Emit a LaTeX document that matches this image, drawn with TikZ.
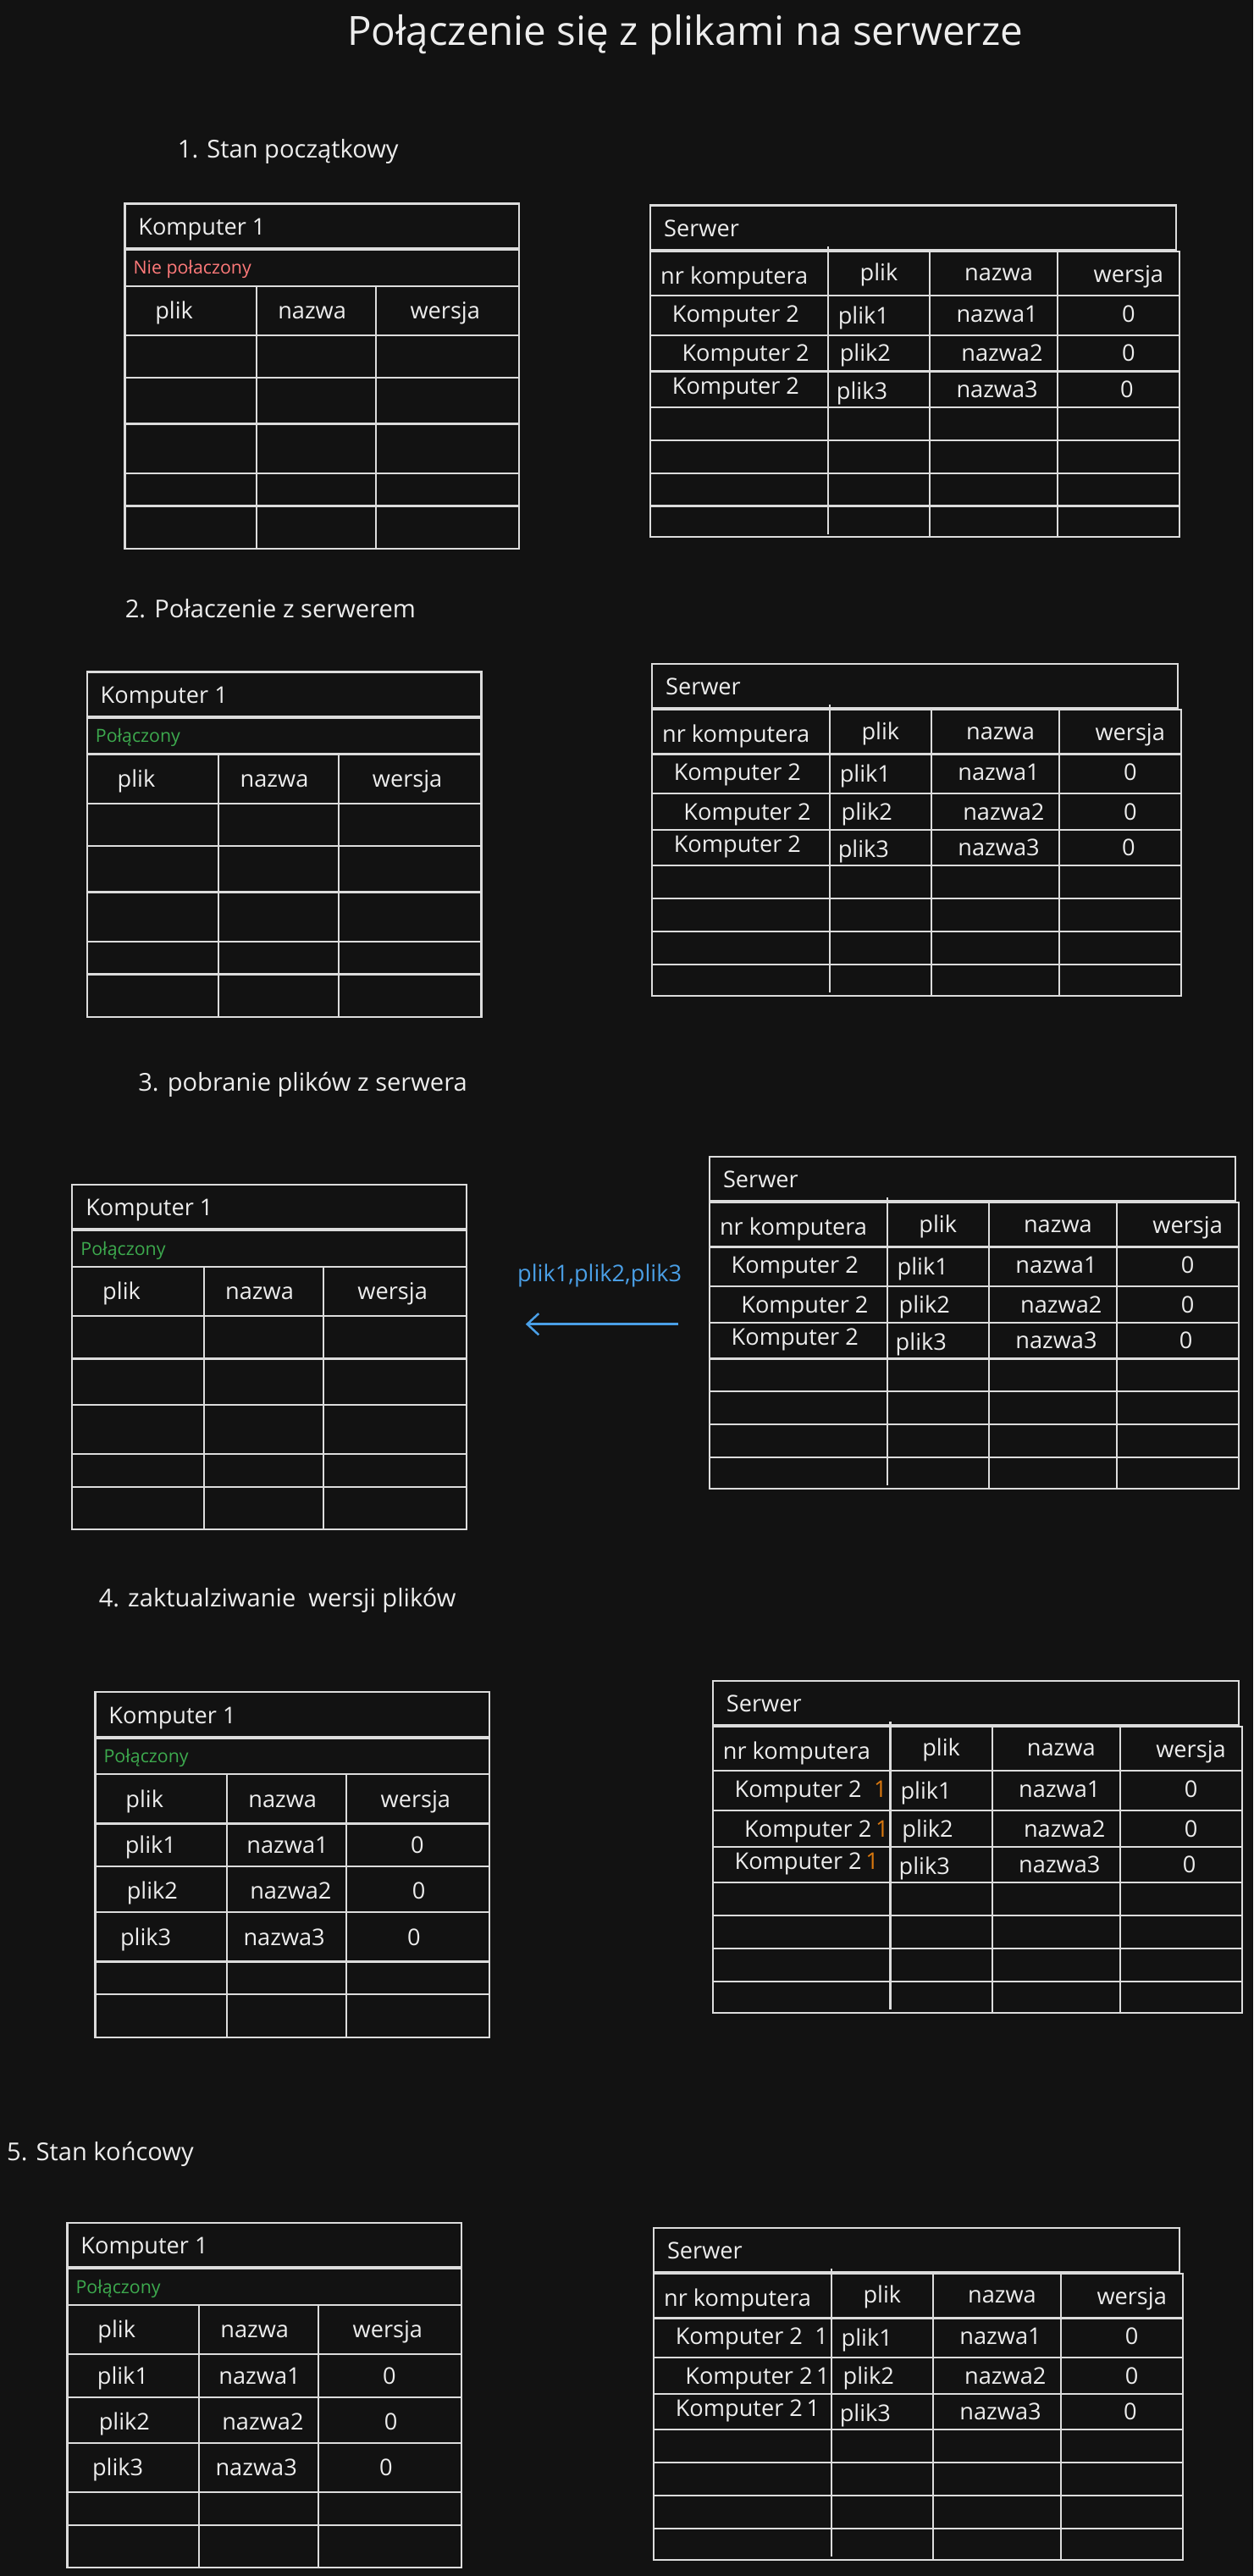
\documentclass[tikz,border=0pt]{standalone}
\usepackage{fontspec}
\setmainfont{Open Sans}
\usetikzlibrary{arrows.meta}
\definecolor{bgc}{HTML}{121212}
\definecolor{lnc}{HTML}{DCDCDC}
\definecolor{txc}{HTML}{EDEDED}
\definecolor{redc}{HTML}{FF7A7A}
\definecolor{greenc}{HTML}{3DAA4E}
\definecolor{bluec}{HTML}{4A9FE6}
\definecolor{orangec}{HTML}{D9780F}
\tikzset{
  grid/.style={draw=lnc, line width=1.1pt},
  txt/.style={text=txc, font=\fontsize{14}{16}\selectfont, inner sep=0pt},
  small/.style={font=\fontsize{11}{13}\selectfont, inner sep=0pt},
  sect/.style={text=txc, font=\fontsize{15}{18}\selectfont, inner sep=0pt, anchor=base west},
}
% Komputer table
\newcommand\kompTable[5]{%
\begin{scope}[shift={(#2,#3)}]
  \draw[grid] (76,124) rectangle (316,151);
  \draw[grid] (76,152) rectangle (316,174);
  \draw[grid] (76,174) rectangle (316,334);
  \foreach \yy in {204,230,258,288,308} \draw[grid] (76,\yy) -- (316,\yy);
  \foreach \xx in {156,229} \draw[grid] (\xx,174) -- (\xx,334);
  \node[txt, anchor=base west] (#1title) at (84,143) {Komputer 1};
  \node[small, text=#5, anchor=base west] (#1status) at (81,167) {#4};
  \node[txt, anchor=base] (#1h1) at (106,194) {plik};
  \node[txt, anchor=base] (#1h2) at (190,194) {nazwa};
  \node[txt, anchor=base] (#1h3) at (271,194) {wersja};
\end{scope}}
\newcommand\kompData[3]{%
\begin{scope}[shift={(#2,#3)}]
  \node[txt, anchor=base west] (#1p1) at (94,222) {plik1};
  \node[txt, anchor=base west] (#1p2) at (95,250) {plik2};
  \node[txt, anchor=base west] (#1p3) at (91,278) {plik3};
  \node[txt, anchor=base] (#1n1) at (193,222) {nazwa1};
  \node[txt, anchor=base] (#1n2) at (195,250) {nazwa2};
  \node[txt, anchor=base] (#1n3) at (191,278) {nazwa3};
  \node[txt, anchor=base] (#1v1) at (272,222) {0};
  \node[txt, anchor=base] (#1v2) at (273,250) {0};
  \node[txt, anchor=base] (#1v3) at (270,278) {0};
\end{scope}}
% Serwer table
\newcommand\servTable[3]{%
\begin{scope}[shift={(#2,#3)}]
  \draw[grid] (396,125) rectangle (716,152);
  \draw[grid] (396,153) rectangle (718,327);
  \foreach \yy in {180,204,226,248,268,288,308} \draw[grid] (396,\yy) -- (718,\yy);
  \draw[grid] (504,150) -- (504,325);
  \foreach \xx in {566,644} \draw[grid] (\xx,153) -- (\xx,327);
  \node[txt, anchor=base west] (#1title) at (404,144) {Serwer};
  \node[txt, anchor=base] (#1h1) at (447,173) {nr komputera};
  \node[txt, anchor=base] (#1h2) at (535,171) {plik};
  \node[txt, anchor=base] (#1h3) at (608,171) {nazwa};
  \node[txt, anchor=base] (#1h4) at (687,172) {wersja};
  \node[txt, anchor=base west] (#1a1) at (409,196) {Komputer 2};
  \node[txt, anchor=base west] (#1a2) at (415,220) {Komputer 2};
  \node[txt, anchor=base west] (#1a3) at (409,240) {Komputer 2};
  \node[txt, anchor=base west] (#1b1) at (510,197) {plik1};
  \node[txt, anchor=base west] (#1b2) at (511,220) {plik2};
  \node[txt, anchor=base west] (#1b3) at (509,243) {plik3};
  \node[txt, anchor=base] (#1c1) at (607,196) {nazwa1};
  \node[txt, anchor=base] (#1c2) at (610,220) {nazwa2};
  \node[txt, anchor=base] (#1c3) at (607,242) {nazwa3};
  \node[txt, anchor=base] (#1d1) at (687,196) {0};
  \node[txt, anchor=base] (#1d2) at (687,220) {0};
  \node[txt, anchor=base] (#1d3) at (686,242) {0};
\end{scope}}
\newcommand\servMark[4]{%
\begin{scope}[shift={(#2,#3)}]
  \node[txt, text=#4, anchor=base] (#1m1) at (498,196) {1};
  \node[txt, text=#4, anchor=base] (#1m2) at (499,220) {1};
  \node[txt, text=#4, anchor=base] (#1m3) at (493,240) {1};
\end{scope}}
\begin{document}
\begin{tikzpicture}[x=1pt, y=-1pt]
  \fill[bgc] (0,0) rectangle (763,1568);
  \useasboundingbox (0,0) rectangle (763,1568);
  \node[text=txc, font=\fontsize{24.5}{28}\selectfont, inner sep=0pt] (title) at (417,21) {Połączenie się z plikami na serwerze};
  % Section 1
  \node[sect] (s1) at (108,96) {1. Stan początkowy};
  \kompTable{ka}{0}{0}{Nie połaczony}{redc}
  \servTable{sa}{0}{0}
  % Section 2
  \node[sect] (s2) at (76,376) {2. Połaczenie z serwerem};
  \kompTable{kb}{-23}{285}{Połączony}{greenc}
  \servTable{sb}{1}{279}
  % Section 3
  \node[sect] (s3) at (84,664) {3. pobranie plików z serwera};
  \kompTable{kc}{-32}{597}{Połączony}{greenc}
  \servTable{sc}{36}{579}
  \coordinate (arrS) at (413,806);
  \coordinate (arrE) at (320,806);
  \draw[draw=bluec, line width=1.3pt, -{Straight Barb[length=7pt,width=13pt]}] (arrS) -- (arrE);
  \node[txt, text=bluec, anchor=base] (arrlbl) at (365,780) {plik1,plik2,plik3};
  % Section 4
  \node[sect] (s4) at (60,978) {4. zaktualziwanie~ wersji plików};
  \kompTable{kd}{-18}{906}{Połączony}{greenc}
  \kompData{kd}{-18}{906}
  \servTable{sd}{38}{898}
  \servMark{sd}{38}{898}{orangec}
  % Section 5
  \node[sect] (s5) at (4,1315) {5. Stan końcowy};
  \kompTable{ke}{-35}{1229}{Połączony}{greenc}
  \kompData{ke}{-35}{1229}
  \servTable{se}{2}{1231}
  \servMark{se}{2}{1231}{txc}
\end{tikzpicture}
\end{document}
